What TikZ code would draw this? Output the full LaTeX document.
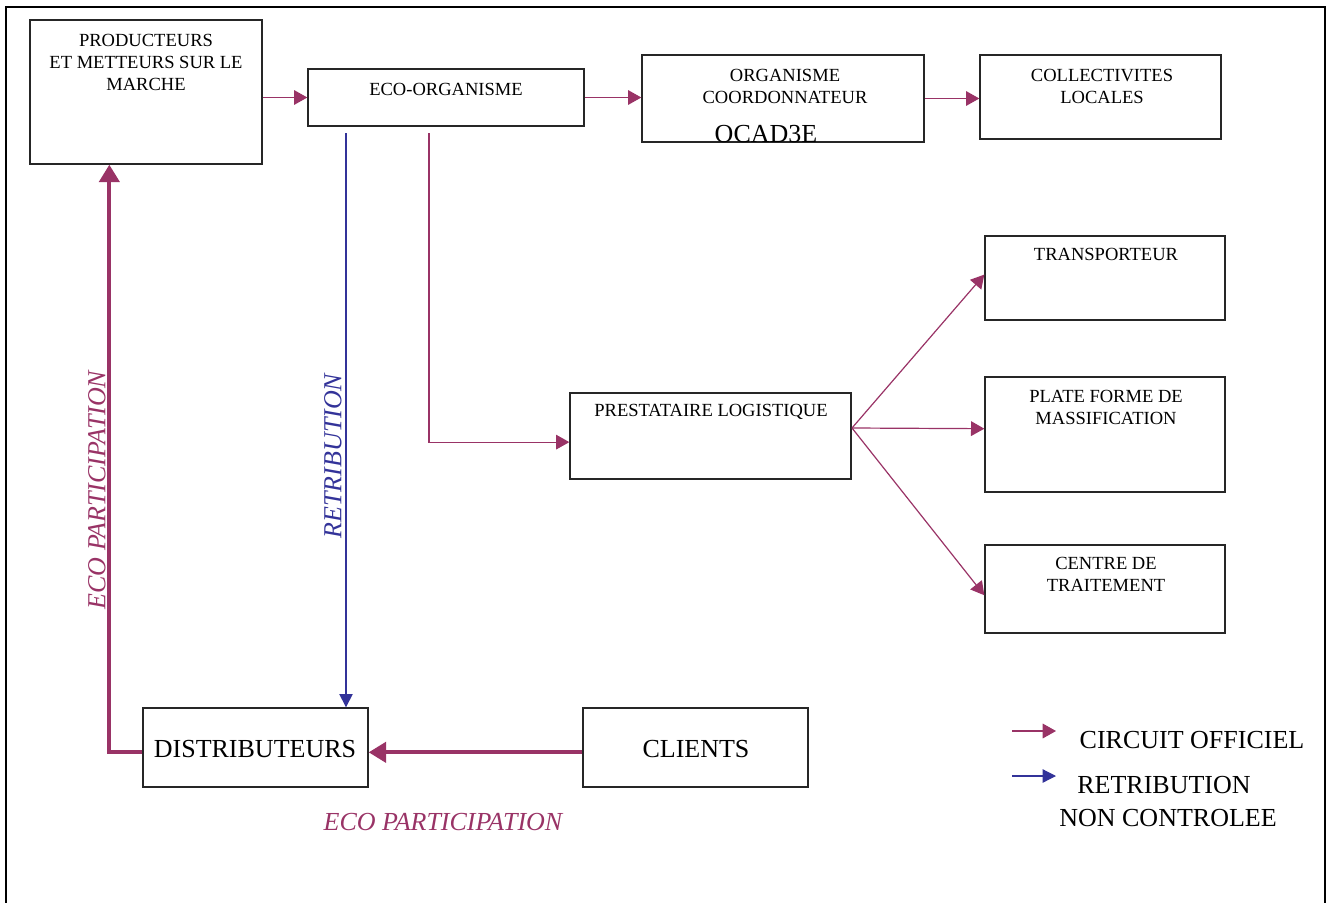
\documentclass[tikz,border=0pt]{standalone}
\usepackage{fontspec}
\setmainfont{Liberation Serif}
\usetikzlibrary{arrows.meta,calc,fit}
\definecolor{plum}{HTML}{993366}
\definecolor{indigo}{HTML}{333399}
\tikzset{
  box/.style={draw=black!85, line width=1pt, inner sep=0pt, fill=white},
  small/.style={font=\fontsize{13.9}{16.5}\selectfont, align=center, inner sep=0pt},
  big/.style={font=\fontsize{19.5}{24.5}\selectfont, align=center, inner sep=0pt},
  conn/.style={draw=plum, line width=0.9pt, -{Triangle[length=10pt,width=11pt]}},
  retro/.style={draw=indigo, line width=0.9pt, -{Triangle[length=10pt,width=10pt]}},
  heavy/.style={draw=plum, line width=3pt, -{Triangle[length=13pt,width=15pt]}},
}
\begin{document}
\begin{tikzpicture}[x=0.75pt,y=-0.75pt]
\useasboundingbox (0,0) rectangle (1328,903);
% open frame
\draw[line width=1.5pt] (6,910) -- (6,7) -- (1325,7) -- (1325,910);

% boxes
\node[box, fit={(30,20) (262,164)}] (prod) {};
\node[box, fit={(308,69) (584,126)}] (eco) {};
\node[box, fit={(642,55) (924,142)}] (org) {};
\node[box, fit={(980,55) (1221,139)}] (coll) {};
\node[box, fit={(985,236) (1225,320)}] (transp) {};
\node[box, fit={(985,377) (1225,492)}] (plate) {};
\node[box, fit={(985,545) (1225,633)}] (centre) {};
\node[box, fit={(570,393) (851,479)}] (presta) {};
\node[box, fit={(143,708) (368,787)}] (dist) {};
\node[box, fit={(583,708) (808,787)}] (cli) {};

% box texts
\node[small] (prodT) at (146,62) {PRODUCTEURS\\ET METTEURS SUR LE\\MARCHE};
\node[small] (ecoT) at (446,89) {ECO-ORGANISME};
\node[small] (orgT) at (785,86.5) {ORGANISME\\COORDONNATEUR};
\node[big] (ocad) at (766,134) {OCAD3E};
\node[small] (collT) at (1102,86.5) {COLLECTIVITES\\LOCALES};
\node[small] (transpT) at (1106,254) {TRANSPORTEUR};
\node[small] (plateT) at (1106,407.5) {PLATE FORME DE\\MASSIFICATION};
\node[small] (centreT) at (1106,574) {CENTRE DE\\TRAITEMENT};
\node[small] (prestaT) at (711,412) {PRESTATAIRE LOGISTIQUE};
\node[big] (distT) at (255,749) {DISTRIBUTEURS};
\node[big] (cliT) at (696,749) {CLIENTS};

% official circuit
\draw[conn] (prod.east |- eco.west) -- (eco.west);
\draw[conn] (eco.east) -- (eco.east -| org.west);
\draw[conn] (org.east) -- (org.east -| coll.west);
\coordinate (e1) at (429,133);
\draw[conn] (e1) |- ($(presta.north west)!0.57!(presta.south west)$);
\coordinate (p0) at (852,428);
\draw[conn] (p0) -- ($(transp.north west)!0.46!(transp.south west)$);
\draw[conn] (p0) -- ($(plate.north west)!0.45!(plate.south west)$);
\draw[conn] (p0) -- ($(centre.north west)!0.57!(centre.south west)$);

% uncontrolled retribution
\coordinate (b1) at (346,133);
\draw[retro] (b1) -- (b1 |- dist.north);

% eco participation flows
\draw[heavy] ($(cli.north west)!0.56!(cli.south west)$) -- ($(dist.north east)!0.56!(dist.south east)$);
\draw[heavy] ($(dist.north west)!0.56!(dist.south west)$) -| ([xshift=60pt]prod.south west);

% flow labels
\node[big, font=\fontsize{19.5}{24.5}\selectfont\itshape, text=plum, rotate=90] (epv) at (97,490) {ECO PARTICIPATION};
\node[big, font=\fontsize{19.5}{24.5}\selectfont\itshape, text=indigo, rotate=90] (retv) at (333,456) {RETRIBUTION};
\node[big, font=\fontsize{19.5}{24.5}\selectfont\itshape, text=plum] (eph) at (443,822) {ECO PARTICIPATION};

% legend
\coordinate (l1a) at (1012,731);
\coordinate (l1b) at (1056,731);
\coordinate (l2a) at (1012,776);
\coordinate (l2b) at (1056,776);
\draw[conn] (l1a) -- (l1b);
\draw[retro] (l2a) -- (l2b);
\node[big] (leg1) at (1192,740) {CIRCUIT OFFICIEL};
\node[big] (leg2) at (1164,785) {RETRIBUTION};
\node[big] (leg3) at (1168,818) {NON CONTROLEE};
\end{tikzpicture}
\end{document}
